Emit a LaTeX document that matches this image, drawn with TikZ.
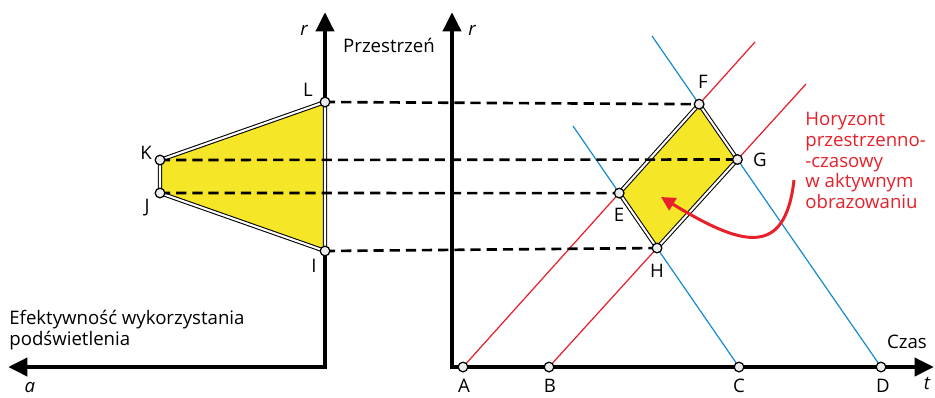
\documentclass[tikz,border=0pt]{standalone}
\usepackage{fontspec}
\setmainfont{Open Sans}
\usetikzlibrary{arrows.meta}

\definecolor{hred}{RGB}{232,32,42}
\definecolor{hblue}{RGB}{25,140,205}
\definecolor{hyellow}{RGB}{246,230,40}

\begin{document}
\begin{tikzpicture}[x=0.02cm,y=-0.02cm,
  axis/.style={line width=2.8pt, line join=miter, {Triangle[length=11pt,width=10pt]}-{Triangle[length=11pt,width=10pt]}},
  pt/.style={circle, draw, fill=gray!15, line width=0.7pt, inner sep=0pt, minimum size=5.5pt},
  lbl/.style={font=\fontsize{10.6}{11.8}\selectfont, inner sep=0pt},
  ilbl/.style={font=\fontsize{10.6}{11.8}\selectfont\itshape, inner sep=0pt},
  dashline/.style={line width=1.5pt, dash pattern=on 5.8pt off 3.4pt},
  redline/.style={hred, line width=0.7pt},
  blueline/.style={hblue, line width=0.7pt},
  zone/.style={draw, fill=hyellow, line width=0.6pt, double=white, double distance=1.2pt}
]
\useasboundingbox (0,0) rectangle (935,397);

% Axes
\coordinate (lcorner) at (325,367);
\coordinate (rcorner) at (452,367);
\draw[axis] (8,367) -- (lcorner) -- (325,12);
\draw[axis] (452,12) -- (rcorner) -- (934,367);

% Ends of the red and blue lines
\coordinate (a) at (463,367);
\coordinate (b) at (549,367);
\coordinate (c) at (739,367);
\coordinate (d) at (881,367);
\coordinate (ra) at (755,42);
\coordinate (rb) at (806,84);
\coordinate (bc) at (573,126);
\coordinate (bd) at (652,36);

% Corners of the yellow zone
\coordinate (e) at (intersection of a--ra and c--bc);
\coordinate (f) at (intersection of a--ra and d--bd);
\coordinate (g) at (intersection of b--rb and d--bd);
\coordinate (h) at (intersection of b--rb and c--bc);

\draw[redline] (a) -- (ra);
\draw[redline] (b) -- (rb);
\draw[blueline] (c) -- (bc);
\draw[blueline] (d) -- (bd);

% Left trapezoid
\coordinate (l) at (325,102);
\coordinate (k) at (160,160);
\coordinate (j) at (160,193);
\coordinate (i) at (325,251);
\draw[zone] (k) -- (l) -- (i) -- (j) -- cycle;
\draw[zone] (e) -- (f) -- (g) -- (h) -- cycle;

% Dashed projections
\draw[dashline] (l) -- (f);
\draw[dashline] (k) -- (g);
\draw[dashline] (j) -- (e);
\draw[dashline] (i) -- (h);

% Points
\foreach \p/\q in {a/A, b/B, c/C, d/D, e/E, f/F, g/G, h/H, i/I, j/J, k/K, l/L}
  \node[pt] (\q) at (\p) {};

% Point labels
\foreach \q/\x/\y in {A/464/386, B/550/386, C/739/386, D/883/386,
  E/619/215, F/703/82, G/760/160, H/657/271,
  I/314/266, J/147/208, K/146/153, L/308/90}
  \node[lbl] (lab\q) at (\x,\y) {\q};

% Axis names
\node[ilbl] (rleft) at (304,30) {r};
\node[ilbl] (rright) at (472,30) {r};
\node[ilbl] (aname) at (30,388) {a};
\node[ilbl] (tname) at (927,383) {t};
\node[lbl] (space) at (389,45) {Przestrzeń};
\node[lbl] (time) at (907,342) {Czas};
\node[lbl, anchor=north west, align=left] (eff) at (9,310) {Efektywność wykorzystania\\podświetlenia};

% Horizon note
\node[lbl, text=hred, anchor=north west, align=left] (note) at (805,112)
  {Horyzont\\przestrzenno-\\-czasowy\\w aktywnym\\obrazowaniu};
\coordinate (tip) at (661,197);
\draw[hred, line width=1.7pt, -{Triangle[length=8pt,width=8pt]}]
  (794,180) .. controls (785,260) and (740,245) .. (tip);

\end{tikzpicture}
\end{document}
